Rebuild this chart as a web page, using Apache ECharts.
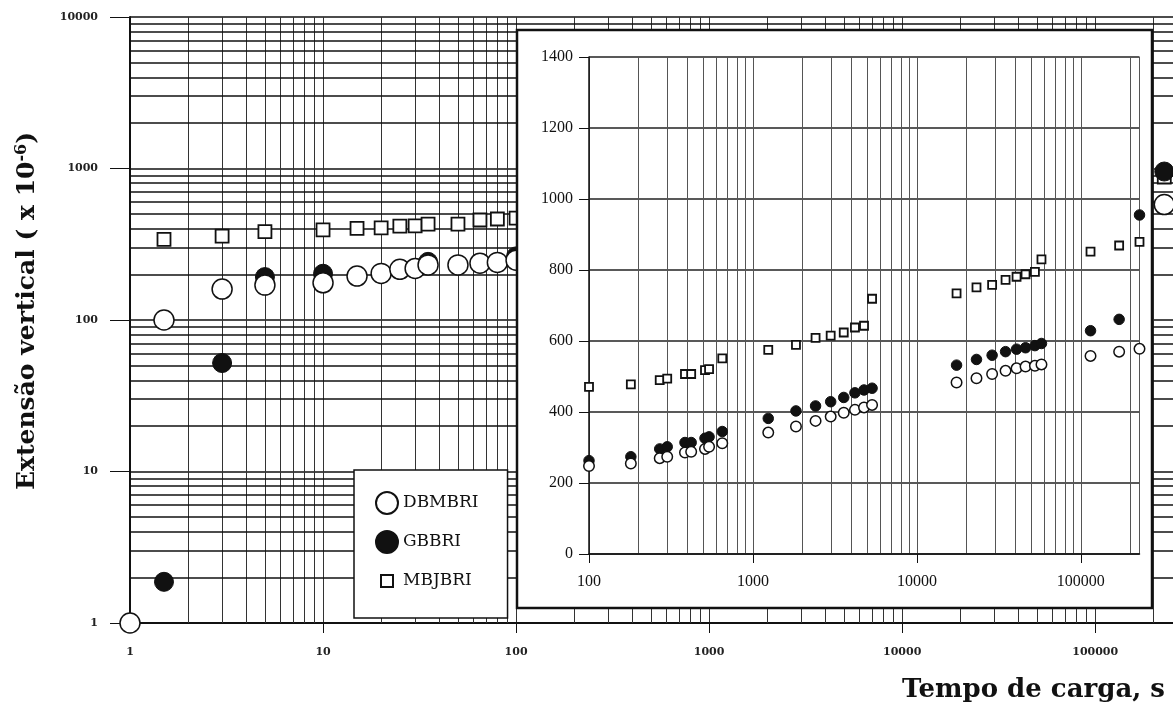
<!DOCTYPE html>
<html><head><meta charset="utf-8">
<script src="https://cdn.jsdelivr.net/npm/echarts@6/dist/echarts.min.js"></script>
<style>html,body{margin:0;padding:0;background:#fff}#c{width:1173px;height:711px}</style>
</head><body><div id="c"></div>
<script>
// ---- data ----
// early loading times shown only in the main log-log plot (s)
const timeEarlyDBMBRI = [1, 1.5, 3, 5, 10, 15, 20, 25, 30, 35, 50, 65, 80];
const strainEarlyDBMBRI = [1, 100, 160, 170, 176, 195, 203, 216, 219, 231, 231, 237, 240];
const timeEarlyGBBRI = [1.5, 3, 5, 10, 35];
const strainEarlyGBBRI = [1.87, 52, 192, 202, 242];
const timeEarlyMBJBRI = [1.5, 3, 5, 10, 15, 20, 25, 30, 35, 50, 65, 80];
const strainEarlyMBJBRI = [341, 358, 383, 393, 403, 406, 417, 418, 430, 430, 457, 464];

// later loading times (shown in the inset; also plotted, mostly hidden, in the main plot)
const timeLate = [100, 180, 270, 300, 385, 420, 510, 540, 650, 1240, 1830, 2410, 2980, 3580,
  4190, 4760, 5330, 17460, 23100, 28770, 34750, 40550, 46000, 52480, 57540, 114600, 171300, 228000];
const strainLateDBMBRI = [248, 255, 270, 274, 286, 288, 296, 302, 312, 342, 359, 375, 387, 398,
  406, 413, 420, 483, 495, 507, 516, 523, 528, 530, 534, 558, 570, 578];
const strainLateGBBRI = [263, 274, 296, 302, 314, 314, 326, 330, 345, 382, 403, 417, 429, 441,
  454, 462, 467, 532, 548, 560, 570, 577, 581, 587, 593, 629, 661, 955];
const strainLateMBJBRI = [471, 478, 490, 494, 507, 507, 518, 521, 551, 575, 589, 609, 615, 624,
  638, 643, 719, 734, 751, 758, 772, 781, 788, 795, 830, 852, 869, 879];

// tick labels
const mainXTickLabels = [1, 10, 100, 1000, 10000, 100000];
const mainYTickLabels = [1, 10, 100, 1000, 10000];
const insetXTickLabels = [100, 1000, 10000, 100000];
const seriesNames = ['DBMBRI', 'GBBRI', 'MBJBRI'];

// log-paper minor grid multipliers
const minorMultipliers = [2, 3, 4, 5, 6, 7, 8, 9];
const mainXDecades = [1, 10, 100, 1000, 10000, 100000];
const mainYDecades = [1, 10, 100, 1000];
const insetXDecades = [100, 1000, 10000, 100000];

// ---- build ----
const zip = (a, b) => a.map((v, i) => [v, b[i]]);
const minors = (decades, max) => {
  const out = [];
  decades.forEach(d => minorMultipliers.forEach(m => { if (d * m <= max) out.push(d * m); }));
  return out;
};
const labelFmt = list => v => (list.some(t => Math.abs(t - v) / t < 1e-6) ? String(Math.round(v)) : '');

const MAIN_XMAX = 253000, INSET_XMAX = 228000;
const VLINE = {color: '#333', width: 1, type: 'solid'};
const HLINE = {color: '#111', width: 1.6, type: 'solid'};
const IVLINE = {color: '#555', width: 1, type: 'solid'};

const mainTickFont = {fontFamily: 'DejaVu Serif', fontWeight: 'bold', fontSize: 11, color: '#222'};
const insetTickFont = {fontFamily: 'Liberation Serif', fontSize: 16, color: '#111'};

const mainGridLines = [].concat(
  minors(mainXDecades, MAIN_XMAX).map(v => ({xAxis: v, lineStyle: VLINE})),
  minors(mainYDecades, 10000).map(v => ({yAxis: v, lineStyle: HLINE}))
);
const insetGridLines = minors(insetXDecades, INSET_XMAX).map(v => ({xAxis: v, lineStyle: IVLINE}));

const markCommon = {silent: true, symbol: ['none', 'none'], label: {show: false}, animation: false, emphasis: {disabled: true}};

const styles = {
  DBMBRI: {symbol: 'circle', main: 20, inset: 10.5, itemStyle: {color: '#fff', borderColor: '#111', borderWidth: 1.5, opacity: 1}},
  GBBRI: {symbol: 'circle', main: 19, inset: 10.5, itemStyle: {color: '#111', borderColor: '#111', borderWidth: 1, opacity: 1}},
  MBJBRI: {symbol: 'rect', main: 13, inset: 8, itemStyle: {color: '#fff', borderColor: '#111', borderWidth: 1.8, opacity: 1}}
};
const mainData = {
  DBMBRI: zip(timeEarlyDBMBRI, strainEarlyDBMBRI).concat(zip(timeLate, strainLateDBMBRI)),
  GBBRI: zip(timeEarlyGBBRI, strainEarlyGBBRI).concat(zip(timeLate, strainLateGBBRI)),
  MBJBRI: zip(timeEarlyMBJBRI, strainEarlyMBJBRI).concat(zip(timeLate, strainLateMBJBRI))
};
const insetData = {
  DBMBRI: zip(timeLate, strainLateDBMBRI),
  GBBRI: zip(timeLate, strainLateGBBRI),
  MBJBRI: zip(timeLate, strainLateMBJBRI)
};
const drawOrder = ['MBJBRI', 'GBBRI', 'DBMBRI'];

const series = [
  {name: 'mainGrid', type: 'line', xAxisIndex: 0, yAxisIndex: 0, z: 1, data: [[1, 1]], symbol: 'none',
   lineStyle: {opacity: 0}, silent: true,
   markLine: Object.assign({data: mainGridLines, zlevel: 0, z: 1}, markCommon)},
  {name: 'insetGrid', type: 'line', xAxisIndex: 1, yAxisIndex: 1, zlevel: 1, z: 6, data: [[100, 0]], symbol: 'none',
   lineStyle: {opacity: 0}, silent: true,
   markLine: Object.assign({data: insetGridLines, zlevel: 1, z: 6}, markCommon)}
];
drawOrder.forEach(n => series.push({name: n, type: 'scatter', xAxisIndex: 0, yAxisIndex: 0, z: 2,
  symbol: styles[n].symbol, symbolSize: styles[n].main, itemStyle: styles[n].itemStyle, data: mainData[n], silent: true}));
drawOrder.forEach(n => series.push({name: n, type: 'scatter', xAxisIndex: 1, yAxisIndex: 1, zlevel: 1, z: 7,
  symbol: styles[n].symbol, symbolSize: styles[n].inset, itemStyle: styles[n].itemStyle, data: insetData[n], silent: true}));

const option = {
  animation: false,
  backgroundColor: '#fff',
  grid: [
    {left: 130, top: 17, right: 0, bottom: 88, outerBoundsMode: 'none'},
    {left: 589, top: 57, right: 33.5, bottom: 157, outerBoundsMode: 'none'}
  ],
  xAxis: [
    {type: 'log', logBase: 10, gridIndex: 0, min: 1, max: MAIN_XMAX, z: 0,
     axisLine: {show: true, lineStyle: {color: '#111', width: 2}},
     axisTick: {show: true, length: 10, inside: false, lineStyle: {color: '#111', width: 1}},
     axisLabel: Object.assign({margin: 24, formatter: labelFmt(mainXTickLabels), showMaxLabel: false}, mainTickFont),
     splitLine: {show: true, lineStyle: VLINE}, minorTick: {show: false}, minorSplitLine: {show: false}},
    {type: 'log', logBase: 10, gridIndex: 1, min: 100, max: INSET_XMAX, zlevel: 1, z: 6,
     axisLine: {show: true, lineStyle: {color: '#111', width: 1.5}},
     axisTick: {show: true, length: 9, inside: false, lineStyle: {color: '#111', width: 1}},
     axisLabel: Object.assign({margin: 20, formatter: labelFmt(insetXTickLabels), showMaxLabel: false}, insetTickFont),
     splitLine: {show: true, lineStyle: IVLINE}}
  ],
  yAxis: [
    {type: 'log', logBase: 10, gridIndex: 0, min: 1, max: 10000, z: 0,
     name: 'Extensão vertical ( x 10{sup|-6})', nameLocation: 'middle', nameGap: 90, nameRotate: 90,
     nameMoveOverlap: false,
     nameTextStyle: {fontFamily: 'DejaVu Serif', fontWeight: 'bold', fontSize: 25, color: '#111',
       padding: [0, 0, 0, 18],
       rich: {sup: {fontFamily: 'DejaVu Serif', fontWeight: 'bold', fontSize: 16, color: '#111', verticalAlign: 'top', padding: [0, 0, 10, 0]}}},
     axisLine: {show: true, lineStyle: {color: '#111', width: 2}},
     axisTick: {show: true, length: 20, inside: false, lineStyle: {color: '#111', width: 1}},
     axisLabel: Object.assign({margin: 32, formatter: labelFmt(mainYTickLabels)}, mainTickFont),
     splitLine: {show: true, lineStyle: HLINE}},
    {type: 'value', gridIndex: 1, min: 0, max: 1400, interval: 200, zlevel: 1, z: 6,
     axisLine: {show: true, lineStyle: {color: '#111', width: 1.5}},
     axisTick: {show: true, length: 10, inside: false, lineStyle: {color: '#111', width: 1}},
     axisLabel: Object.assign({margin: 16, formatter: v => String(v)}, insetTickFont),
     splitLine: {show: true, lineStyle: {color: '#222', width: 1.5}}}
  ],
  legend: {
    data: [{name: seriesNames[0]}, {name: seriesNames[1]},
           {name: seriesNames[2], icon: 'path://M0,0M22,22M5,5L17,5L17,17L5,17Z'}],
    orient: 'vertical', left: 354, top: 470, itemWidth: 22, itemHeight: 22, itemGap: 15,
    padding: [21, 29, 25, 21], backgroundColor: '#fff', borderColor: '#111', borderWidth: 1.5,
    selectedMode: false, z: 10,
    textStyle: {fontFamily: 'DejaVu Serif', fontSize: 17, color: '#111'}
  },
  graphic: {elements: [
    {type: 'rect', zlevel: 1, z: 0, silent: true, shape: {x: 517, y: 30, width: 635, height: 578},
     style: {fill: '#fff', stroke: '#111', lineWidth: 2.5}},
    {type: 'text', z: 10, right: 8, top: 677, silent: true,
     style: {text: 'Tempo de carga, s', font: 'bold 26px "DejaVu Serif"', fill: '#111'}}
  ]},
  series: series
};
const chart = echarts.init(document.getElementById('c'), null, {renderer: 'canvas'});
chart.setOption(option);
</script></body></html>
